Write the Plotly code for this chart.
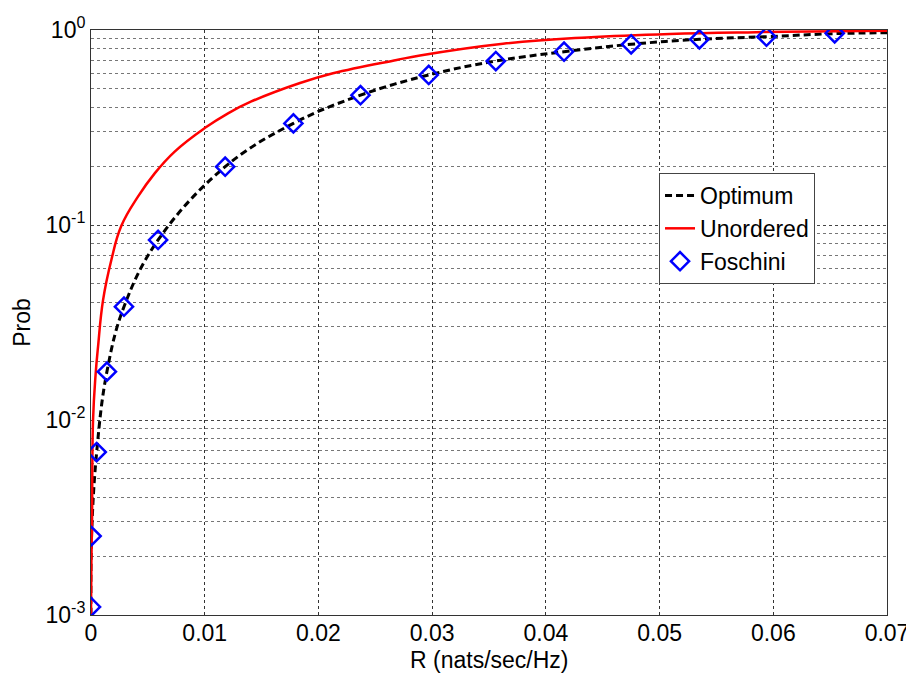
import plotly.graph_objects as go

# Foschini markers
fos_x = [0.0, 0.00005, 0.0005, 0.0014, 0.0029, 0.0059, 0.0118, 0.0178, 0.0237,
         0.0297, 0.0356, 0.0416, 0.0475, 0.0535, 0.0594, 0.0654]
fos_y = [0.0011, 0.00254, 0.00685, 0.0177, 0.0381, 0.0838, 0.199, 0.332, 0.463,
         0.588, 0.693, 0.774, 0.845, 0.896, 0.924, 0.962]

# Optimum curve
opt_x = [0.0, 0.00005, 0.0005, 0.0014, 0.0029, 0.0059, 0.0118, 0.0178, 0.0237,
         0.0297, 0.0356, 0.0416, 0.0475, 0.0535, 0.0594, 0.0654, 0.07]
opt_y = [0.0010, 0.00254, 0.00685, 0.0177, 0.0381, 0.0838, 0.199, 0.332, 0.463,
         0.588, 0.693, 0.774, 0.845, 0.896, 0.924, 0.958, 0.968]

# Unordered curve
unord_x = [0.0, 0.00003, 0.00009, 0.00018, 0.0004, 0.00062, 0.00106, 0.00179, 0.00267,
           0.00413, 0.0056, 0.00736, 0.0100, 0.01205, 0.0141, 0.01838, 0.02128,
           0.02688, 0.02893, 0.03623, 0.0436, 0.0509, 0.0585, 0.07]
unord_y = [0.0010, 0.0018, 0.0030, 0.0100, 0.0170, 0.0238, 0.0412, 0.0662, 0.099,
           0.1397, 0.184, 0.238, 0.314, 0.374, 0.430, 0.535, 0.600,
           0.702, 0.740, 0.850, 0.916, 0.955, 0.975, 0.992]

x_ticks = [0, 0.01, 0.02, 0.03, 0.04, 0.05, 0.06, 0.07]
x_labels = ["0", "0.01", "0.02", "0.03", "0.04", "0.05", "0.06", "0.07"]
y_ticks = [0.001, 0.01, 0.1, 1]
y_labels = ["10<sup>-3</sup>", "10<sup>-2</sup>", "10<sup>-1</sup>", "10<sup>0</sup>"]
y_minor = [m * 10 ** e for e in (-3, -2, -1) for m in range(2, 10)]

font = "Liberation Sans, Arial, sans-serif"

fig = go.Figure()
fig.add_trace(go.Scatter(x=opt_x, y=opt_y, mode="lines", name="Optimum",
                         line=dict(color="black", width=3, dash="7px,4px",
                                   shape="spline", smoothing=1.1)))
fig.add_trace(go.Scatter(x=unord_x, y=unord_y, mode="lines", name="Unordered",
                         line=dict(color="red", width=2.5, shape="spline", smoothing=1.2)))
fig.add_trace(go.Scatter(x=fos_x, y=fos_y, mode="markers", name="Foschini",
                         marker=dict(symbol="diamond-open", size=14, color="blue",
                                     line=dict(color="blue", width=2.5))))

fig.update_layout(
    width=906, height=665,
    margin=dict(l=83, r=27, t=22, b=58),
    paper_bgcolor="white", plot_bgcolor="white",
    font=dict(family=font, size=23, color="black"),
    showlegend=True,
    legend=dict(x=0.7136, y=0.7556, xanchor="left", yanchor="top",
                bgcolor="white", bordercolor="#444", borderwidth=1,
                font=dict(family=font, size=23, color="black"), tracegroupgap=0,
                itemwidth=30),
    annotations=[dict(text="R (nats/sec/Hz)", xref="paper", yref="paper",
                      x=0.5, y=0, xanchor="center", yanchor="middle", yshift=-45,
                      showarrow=False, font=dict(family=font, size=23, color="black"))],
)
fig.update_xaxes(range=[0, 0.07], tickvals=x_ticks, ticktext=x_labels,
                 tickfont=dict(family=font, size=23, color="black"),
                 showline=True, linecolor="#333", linewidth=1, mirror=True,
                 ticks="", ticklabelstandoff=-3,
                 showgrid=True, gridcolor="#333", gridwidth=1, griddash="dot",
                 zeroline=False, automargin=False)
fig.update_yaxes(type="log", range=[-3, 0], tickvals=y_ticks, ticktext=y_labels,
                 tickfont=dict(family=font, size=23, color="black"),
                 showline=True, linecolor="#333", linewidth=1, mirror=True,
                 ticks="",
                 showgrid=True, gridcolor="#444", gridwidth=1, griddash="dot",
                 minor=dict(tickvals=y_minor, showgrid=True, gridcolor="#777",
                            griddash="dot", gridwidth=1),
                 zeroline=False, automargin=False,
                 title=dict(text="Prob", font=dict(family=font, size=23, color="black"),
                            standoff=8))

fig.write_html("out.html")
